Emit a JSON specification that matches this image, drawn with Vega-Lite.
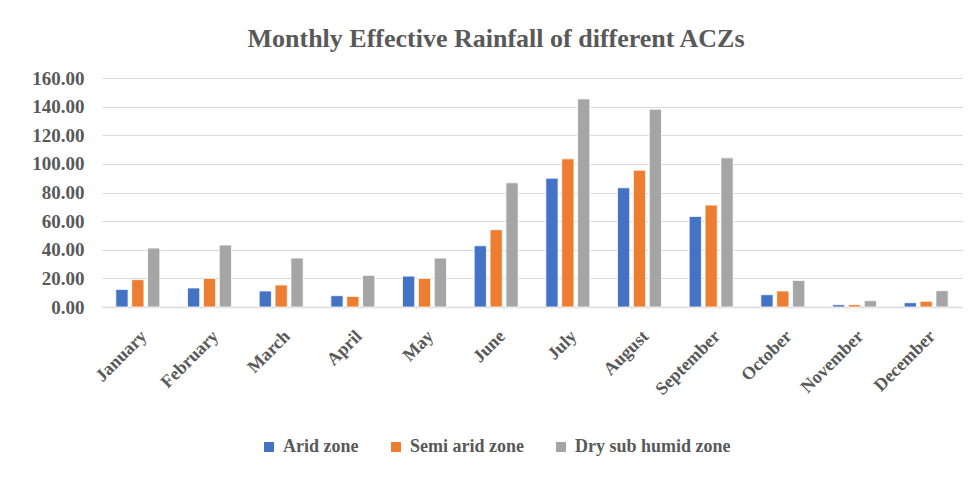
{
  "$schema": "https://vega.github.io/schema/vega-lite/v6.json",
  "autosize": {"type": "none"},
  "width": 860,
  "height": 229,
  "padding": {"left": 102, "top": 78, "right": 12, "bottom": 170},
  "background": "white",
  "title": {
    "text": "Monthly Effective Rainfall of different ACZs",
    "font": "'Liberation Serif', 'Times New Roman', 'DejaVu Serif', serif",
    "fontSize": 26,
    "fontWeight": "bold",
    "color": "#595959",
    "anchor": "middle",
    "dx": -36,
    "offset": 17
  },
  "data": {
    "values": [
      {"month": "January", "zone": "Arid zone", "value": 12.3},
      {"month": "January", "zone": "Semi arid zone", "value": 19.1},
      {"month": "January", "zone": "Dry sub humid zone", "value": 41.2},
      {"month": "February", "zone": "Arid zone", "value": 13.3},
      {"month": "February", "zone": "Semi arid zone", "value": 20.0},
      {"month": "February", "zone": "Dry sub humid zone", "value": 43.3},
      {"month": "March", "zone": "Arid zone", "value": 11.2},
      {"month": "March", "zone": "Semi arid zone", "value": 15.4},
      {"month": "March", "zone": "Dry sub humid zone", "value": 34.2},
      {"month": "April", "zone": "Arid zone", "value": 7.9},
      {"month": "April", "zone": "Semi arid zone", "value": 7.4},
      {"month": "April", "zone": "Dry sub humid zone", "value": 22.1},
      {"month": "May", "zone": "Arid zone", "value": 21.6},
      {"month": "May", "zone": "Semi arid zone", "value": 20.0},
      {"month": "May", "zone": "Dry sub humid zone", "value": 34.2},
      {"month": "June", "zone": "Arid zone", "value": 42.8},
      {"month": "June", "zone": "Semi arid zone", "value": 54.0},
      {"month": "June", "zone": "Dry sub humid zone", "value": 86.8},
      {"month": "July", "zone": "Arid zone", "value": 90.0},
      {"month": "July", "zone": "Semi arid zone", "value": 103.5},
      {"month": "July", "zone": "Dry sub humid zone", "value": 145.4},
      {"month": "August", "zone": "Arid zone", "value": 83.3},
      {"month": "August", "zone": "Semi arid zone", "value": 95.6},
      {"month": "August", "zone": "Dry sub humid zone", "value": 138.2},
      {"month": "September", "zone": "Arid zone", "value": 63.3},
      {"month": "September", "zone": "Semi arid zone", "value": 71.2},
      {"month": "September", "zone": "Dry sub humid zone", "value": 104.2},
      {"month": "October", "zone": "Arid zone", "value": 8.6},
      {"month": "October", "zone": "Semi arid zone", "value": 11.2},
      {"month": "October", "zone": "Dry sub humid zone", "value": 18.6},
      {"month": "November", "zone": "Arid zone", "value": 1.6},
      {"month": "November", "zone": "Semi arid zone", "value": 1.6},
      {"month": "November", "zone": "Dry sub humid zone", "value": 4.4},
      {"month": "December", "zone": "Arid zone", "value": 3.0},
      {"month": "December", "zone": "Semi arid zone", "value": 4.0},
      {"month": "December", "zone": "Dry sub humid zone", "value": 11.4}
    ]
  },
  "mark": {"type": "bar", "stroke": "white", "strokeWidth": 0.8},
  "encoding": {
    "x": {
      "field": "month",
      "type": "nominal",
      "sort": null,
      "scale": {"paddingInner": 0.386, "paddingOuter": 0.193},
      "axis": {
        "title": null,
        "labelAngle": -45,
        "labelFont": "'Liberation Serif', 'Times New Roman', 'DejaVu Serif', serif",
        "labelFontSize": 18,
        "labelFontWeight": "bold",
        "labelColor": "#595959",
        "labelPadding": 20,
        "ticks": false,
        "domainColor": "#d9d9d9",
        "domainWidth": 1.5,
        "grid": false
      }
    },
    "xOffset": {
      "field": "zone",
      "type": "nominal",
      "sort": ["Arid zone", "Semi arid zone", "Dry sub humid zone"],
      "scale": {"paddingInner": 0.23, "paddingOuter": 0}
    },
    "y": {
      "field": "value",
      "type": "quantitative",
      "scale": {"domain": [0, 160], "nice": false},
      "axis": {
        "title": null,
        "values": [0, 20, 40, 60, 80, 100, 120, 140, 160],
        "format": ".2f",
        "labelFont": "'Liberation Serif', 'Times New Roman', 'DejaVu Serif', serif",
        "labelFontSize": 19,
        "labelFontWeight": "bold",
        "labelColor": "#595959",
        "labelPadding": 18,
        "ticks": false,
        "domain": false,
        "gridColor": "#d9d9d9",
        "gridWidth": 1
      }
    },
    "color": {
      "field": "zone",
      "type": "nominal",
      "sort": ["Arid zone", "Semi arid zone", "Dry sub humid zone"],
      "scale": {
        "domain": ["Arid zone", "Semi arid zone", "Dry sub humid zone"],
        "range": ["#4472C4", "#ED7D31", "#A5A5A5"]
      },
      "legend": {
        "title": null,
        "orient": "none",
        "direction": "horizontal",
        "legendX": 158,
        "legendY": 360,
        "symbolType": "square",
        "symbolSize": 100,
        "symbolStrokeWidth": 0,
        "labelFont": "'Liberation Serif', 'Times New Roman', 'DejaVu Serif', serif",
        "labelFontSize": 18,
        "labelFontWeight": "bold",
        "labelColor": "#595959",
        "labelOffset": 5,
        "columnPadding": 28,
        "labelLimit": 300
      }
    }
  },
  "config": {
    "view": {"stroke": null}
  }
}
